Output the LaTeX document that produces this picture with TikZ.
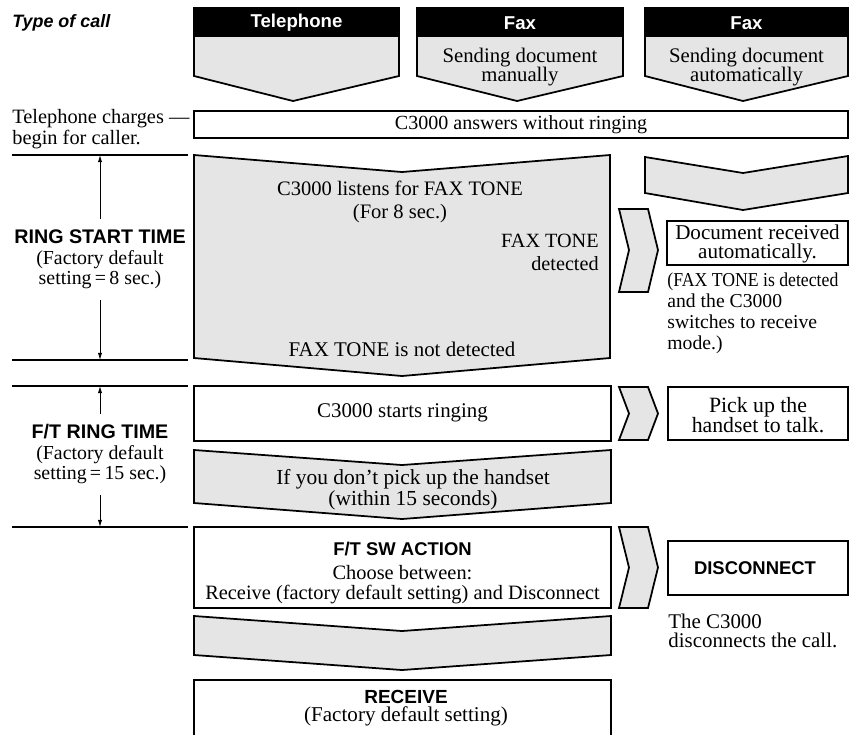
\documentclass[tikz,border=0pt]{standalone}
\usepackage{fontspec}
\setmainfont{Liberation Serif}
\setsansfont{Liberation Sans}
\newfontfamily\narrowserif[FakeStretch=0.9]{Liberation Serif}
\usetikzlibrary{arrows.meta}
\definecolor{panel}{gray}{0.9}
\begin{document}
\begin{tikzpicture}[x=0.02cm,y=-0.02cm,
	txt/.style={font=\fontsize{11.6}{11.6}\selectfont,inner sep=0pt,align=center},
	bold/.style={font=\sffamily\bfseries\fontsize{10.5}{11}\selectfont,inner sep=0pt},
	label/.style={font=\sffamily\bfseries\fontsize{11.2}{12}\selectfont,inner sep=0pt},
	box/.style={draw,line width=1pt},
	chev/.style={draw,fill=panel,line width=1pt},
	rule/.style={line width=0.7pt},
	span/.style={line width=0.5pt,-{Latex[length=4pt,width=2.4pt]}}]
\useasboundingbox (0,0) rectangle (857,735);
% Type of call
\node[bold,font=\sffamily\bfseries\itshape\fontsize{10.2}{11}\selectfont,anchor=west] (calltype) at (12,23) {Type of call};
\begin{scope}[shift={(194,0)}]
	\draw[chev] (0,8) -- (205,8) -- (205,76) -- (99,101) -- (0,76) -- cycle;
	\fill (0,8) rectangle (205,37);
	\node[bold,font=\sffamily\bfseries\fontsize{10.6}{11}\selectfont,text=white] (tel) at (102.5,23) {Telephone};
\end{scope}
\begin{scope}[shift={(417,0)}]
	\draw[chev] (0,8) -- (206,8) -- (206,76) -- (100,101) -- (0,76) -- cycle;
	\fill (0,8) rectangle (206,37);
	\node[bold,font=\sffamily\bfseries\fontsize{10.6}{11}\selectfont,text=white] (faxman) at (103,23) {Fax};
	\node[txt,font=\fontsize{11.8}{11.3}\selectfont] (faxmantxt) at (103,67) {Sending document\\manually};
\end{scope}
\begin{scope}[shift={(645,0)}]
	\draw[chev] (0,8) -- (203,8) -- (203,76) -- (98,101) -- (0,76) -- cycle;
	\fill (0,8) rectangle (203,37);
	\node[bold,font=\sffamily\bfseries\fontsize{10.6}{11}\selectfont,text=white] (faxauto) at (101.5,23) {Fax};
	\node[txt,font=\fontsize{11.8}{11.3}\selectfont] (faxautotxt) at (101.5,67) {Sending document\\automatically};
\end{scope}
% Answer
\node[txt,align=left,anchor=west] (charges) at (12,129) {Telephone charges ---\\begin for caller.};
\draw[box] (194,111) rectangle (848,138);
\node[txt,font=\fontsize{11.4}{11.4}\selectfont] (answer) at (521,124.5) {C3000 answers without ringing};
% Left time rules
\foreach \y in {155,360,386,527}
	\draw[rule] (12,\y) -- (188,\y);
\coordinate (s1) at (100,155);
\coordinate (s2) at (100,360);
\coordinate (s3) at (100,386);
\coordinate (s4) at (100,527);
\node[label] (ringstart) at (100,237) {RING START TIME};
\node[txt,font=\fontsize{11.3}{10.2}\selectfont] (ringstartset) at (100,270) {(Factory default\\setting\,=\,8 sec.)};
\draw[span,shorten <=6pt] (ringstart.north) -- (s1);
\draw[span,shorten <=6pt] (ringstartset.south) -- (s2);
\node[label] (ftring) at (100,432) {F/T RING TIME};
\node[txt,font=\fontsize{11.3}{10.2}\selectfont] (ftringset) at (100,465) {(Factory default\\setting\,=\,15 sec.)};
\draw[span,shorten <=6pt] (ftring.north) -- (s3);
\draw[span,shorten <=6pt] (ftringset.south) -- (s4);
% Listening for fax tone
\draw[chev] (194,155) -- (402,172) -- (610,155) -- (610,358) -- (402,376) -- (194,358) -- cycle;
\node[txt,font=\fontsize{11.7}{13}\selectfont] (listen) at (400,202) {C3000 listens for FAX TONE\\(For 8 sec.)};
\node[txt,font=\fontsize{11.5}{13}\selectfont,align=right,anchor=east] (detected) at (599,252) {FAX TONE\\detected};
\node[txt,font=\fontsize{11.9}{11.9}\selectfont] (notdetected) at (402,349) {FAX TONE is not detected};
\draw[chev] (645,157) -- (743,173) -- (848,156) -- (848,193) -- (743,210) -- (645,193) -- cycle;
\draw[chev] (619,209) -- (648,209) -- (658,250) -- (648,292) -- (619,292) -- (629,250) -- cycle;
\draw[box] (667,221) rectangle (848,265);
\node[txt,font=\fontsize{12}{10.8}\selectfont] (docrecv) at (757.5,244) {Document received\\automatically.};
\node[txt,font=\fontsize{11.2}{12}\selectfont,align=left,anchor=west] (docnote) at (667,313) {{\narrowserif(FAX TONE is detected}\\and the C3000\\switches to receive\\mode.)};
% Ringing
\draw[box] (194,386) rectangle (611,441);
\node[txt,font=\fontsize{11.9}{11.9}\selectfont] (ringing) at (402.5,413) {C3000 starts ringing};
\draw[chev] (619,387) -- (648,387) -- (658,413.5) -- (648,440) -- (619,440) -- (629,413.5) -- cycle;
\draw[box] (668,387) rectangle (848,440);
\node[txt,font=\fontsize{12.4}{11.3}\selectfont] (pickup) at (758,415) {Pick up the\\handset to talk.};
\draw[chev] (194,450) -- (402,465) -- (611,450) -- (611,503) -- (402,519) -- (194,503) -- cycle;
\node[txt,font=\fontsize{12.2}{10.5}\selectfont] (nopick) at (413,490) {If you don't pick up the handset\\(within 15 seconds)};
% F/T SW action
\draw[box] (194,527) rectangle (611,608);
\node[txt] (swaction) at (402.5,573) {\sffamily\bfseries\fontsize{10.5}{11}\selectfont F/T SW ACTION\\[2pt]Choose between:\\Receive (factory default setting) and Disconnect};
\draw[chev] (619,527) -- (648,527) -- (658,567.5) -- (648,608) -- (619,608) -- (629,567.5) -- cycle;
\draw[box] (668,541) rectangle (848,595);
\node[bold] (disc) at (755,568) {DISCONNECT};
\node[txt,font=\fontsize{11.9}{11}\selectfont,align=left,anchor=west] (discnote) at (668,631) {The C3000\\disconnects the call.};
\draw[chev] (194,616) -- (402,631) -- (611,616) -- (611,655) -- (402,670) -- (194,655) -- cycle;
% Receive
\draw[box] (194,735) -- (194,680) -- (611,680) -- (611,735);
\node[txt,font=\fontsize{12}{12}\selectfont] (receive) at (406,708) {\sffamily\bfseries\fontsize{10.8}{11}\selectfont RECEIVE\\[-1.5pt](Factory default setting)};
\end{tikzpicture}
\end{document}
